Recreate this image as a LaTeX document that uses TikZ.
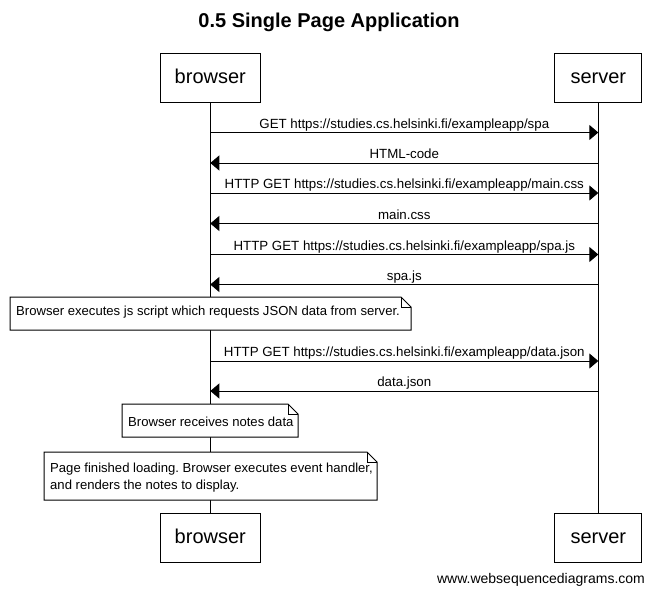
\documentclass[tikz,border=0pt]{standalone}
\usepackage{fontspec}
\setmainfont{Liberation Sans}
\frenchspacing
\usetikzlibrary{arrows.meta}
\tikzset{
  actor/.style={draw,line width=1pt,fill=white,inner sep=0pt,minimum height=49pt,text height=15pt,text depth=4pt,font=\fontsize{20}{24}\selectfont},
  msg/.style={line width=1pt,-{Triangle[length=9pt,width=15pt]}},
  lbl/.style={midway,anchor=south,inner sep=1pt,text height=10pt,text depth=3pt,font=\fontsize{13.3}{16}\selectfont},
  notebox/.style={draw,line width=1pt,fill=white,line join=miter},
  notetext/.style={anchor=west,inner sep=0pt,align=left,font=\fontsize{13.1}{16.5}\selectfont}
}
\begin{document}
\begin{tikzpicture}[x=1pt,y=-1pt]
\useasboundingbox (0,0) rectangle (656,597);
% title
\node[font=\bfseries\fontsize{20}{24}\selectfont] (title) at (329,22) {0.5 Single Page Application};
% participants
\node[actor,minimum width=100pt] (bTop) at (210.3,77.5) {browser};
\node[actor,minimum width=87pt] (sTop) at (598.3,77.5) {server};
\node[actor,minimum width=100pt] (bBot) at (210.3,537.5) {browser};
\node[actor,minimum width=87pt] (sBot) at (598.3,537.5) {server};
% lifelines
\draw[line width=1pt] (bTop.south) -- (bBot.north);
\draw[line width=1pt] (sTop.south) -- (sBot.north);
% message rows
\foreach \n/\y in {1/132.5,2/163,3/193,4/223.5,5/254.5,6/284.5,7/361,8/391}{
  \coordinate (b\n) at (210.3,\y);
  \coordinate (s\n) at (598.3,\y);
}
\draw[msg] (b1) -- node[lbl] {GET https://studies.cs.helsinki.fi/exampleapp/spa} (s1);
\draw[msg] (s2) -- node[lbl] {HTML-code} (b2);
\draw[msg] (b3) -- node[lbl] {HTTP GET https://studies.cs.helsinki.fi/exampleapp/main.css} (s3);
\draw[msg] (s4) -- node[lbl] {main.css} (b4);
\draw[msg] (b5) -- node[lbl] {HTTP GET https://studies.cs.helsinki.fi/exampleapp/spa.js} (s5);
\draw[msg] (s6) -- node[lbl] {spa.js} (b6);
\draw[msg] (b7) -- node[lbl] {HTTP GET https://studies.cs.helsinki.fi/exampleapp/data.json} (s7);
\draw[msg] (s8) -- node[lbl] {data.json} (b8);
% notes
\draw[notebox] (10,297) -- (401,297) -- (411,307) -- (411,330) -- (10,330) -- cycle;
\draw[line width=1pt] (401,297) -- (401,307) -- (411,307);
\node[notetext] (note1) at (16,312.5) {Browser executes js script which requests JSON data from server.};
\draw[notebox] (122,404) -- (288,404) -- (298,414) -- (298,437) -- (122,437) -- cycle;
\draw[line width=1pt] (288,404) -- (288,414) -- (298,414);
\node[notetext] (note2) at (128,421.5) {Browser receives notes data};
\draw[notebox] (44,452) -- (367,452) -- (377,462) -- (377,500) -- (44,500) -- cycle;
\draw[line width=1pt] (367,452) -- (367,462) -- (377,462);
\node[notetext] (note3) at (50,477.5) {Page finished loading. Browser executes event handler,\\and renders the notes to display.};
% footer
\node[font=\fontsize{14}{17}\selectfont] (wsd) at (541,580) {www.websequencediagrams.com};
\end{tikzpicture}
\end{document}
